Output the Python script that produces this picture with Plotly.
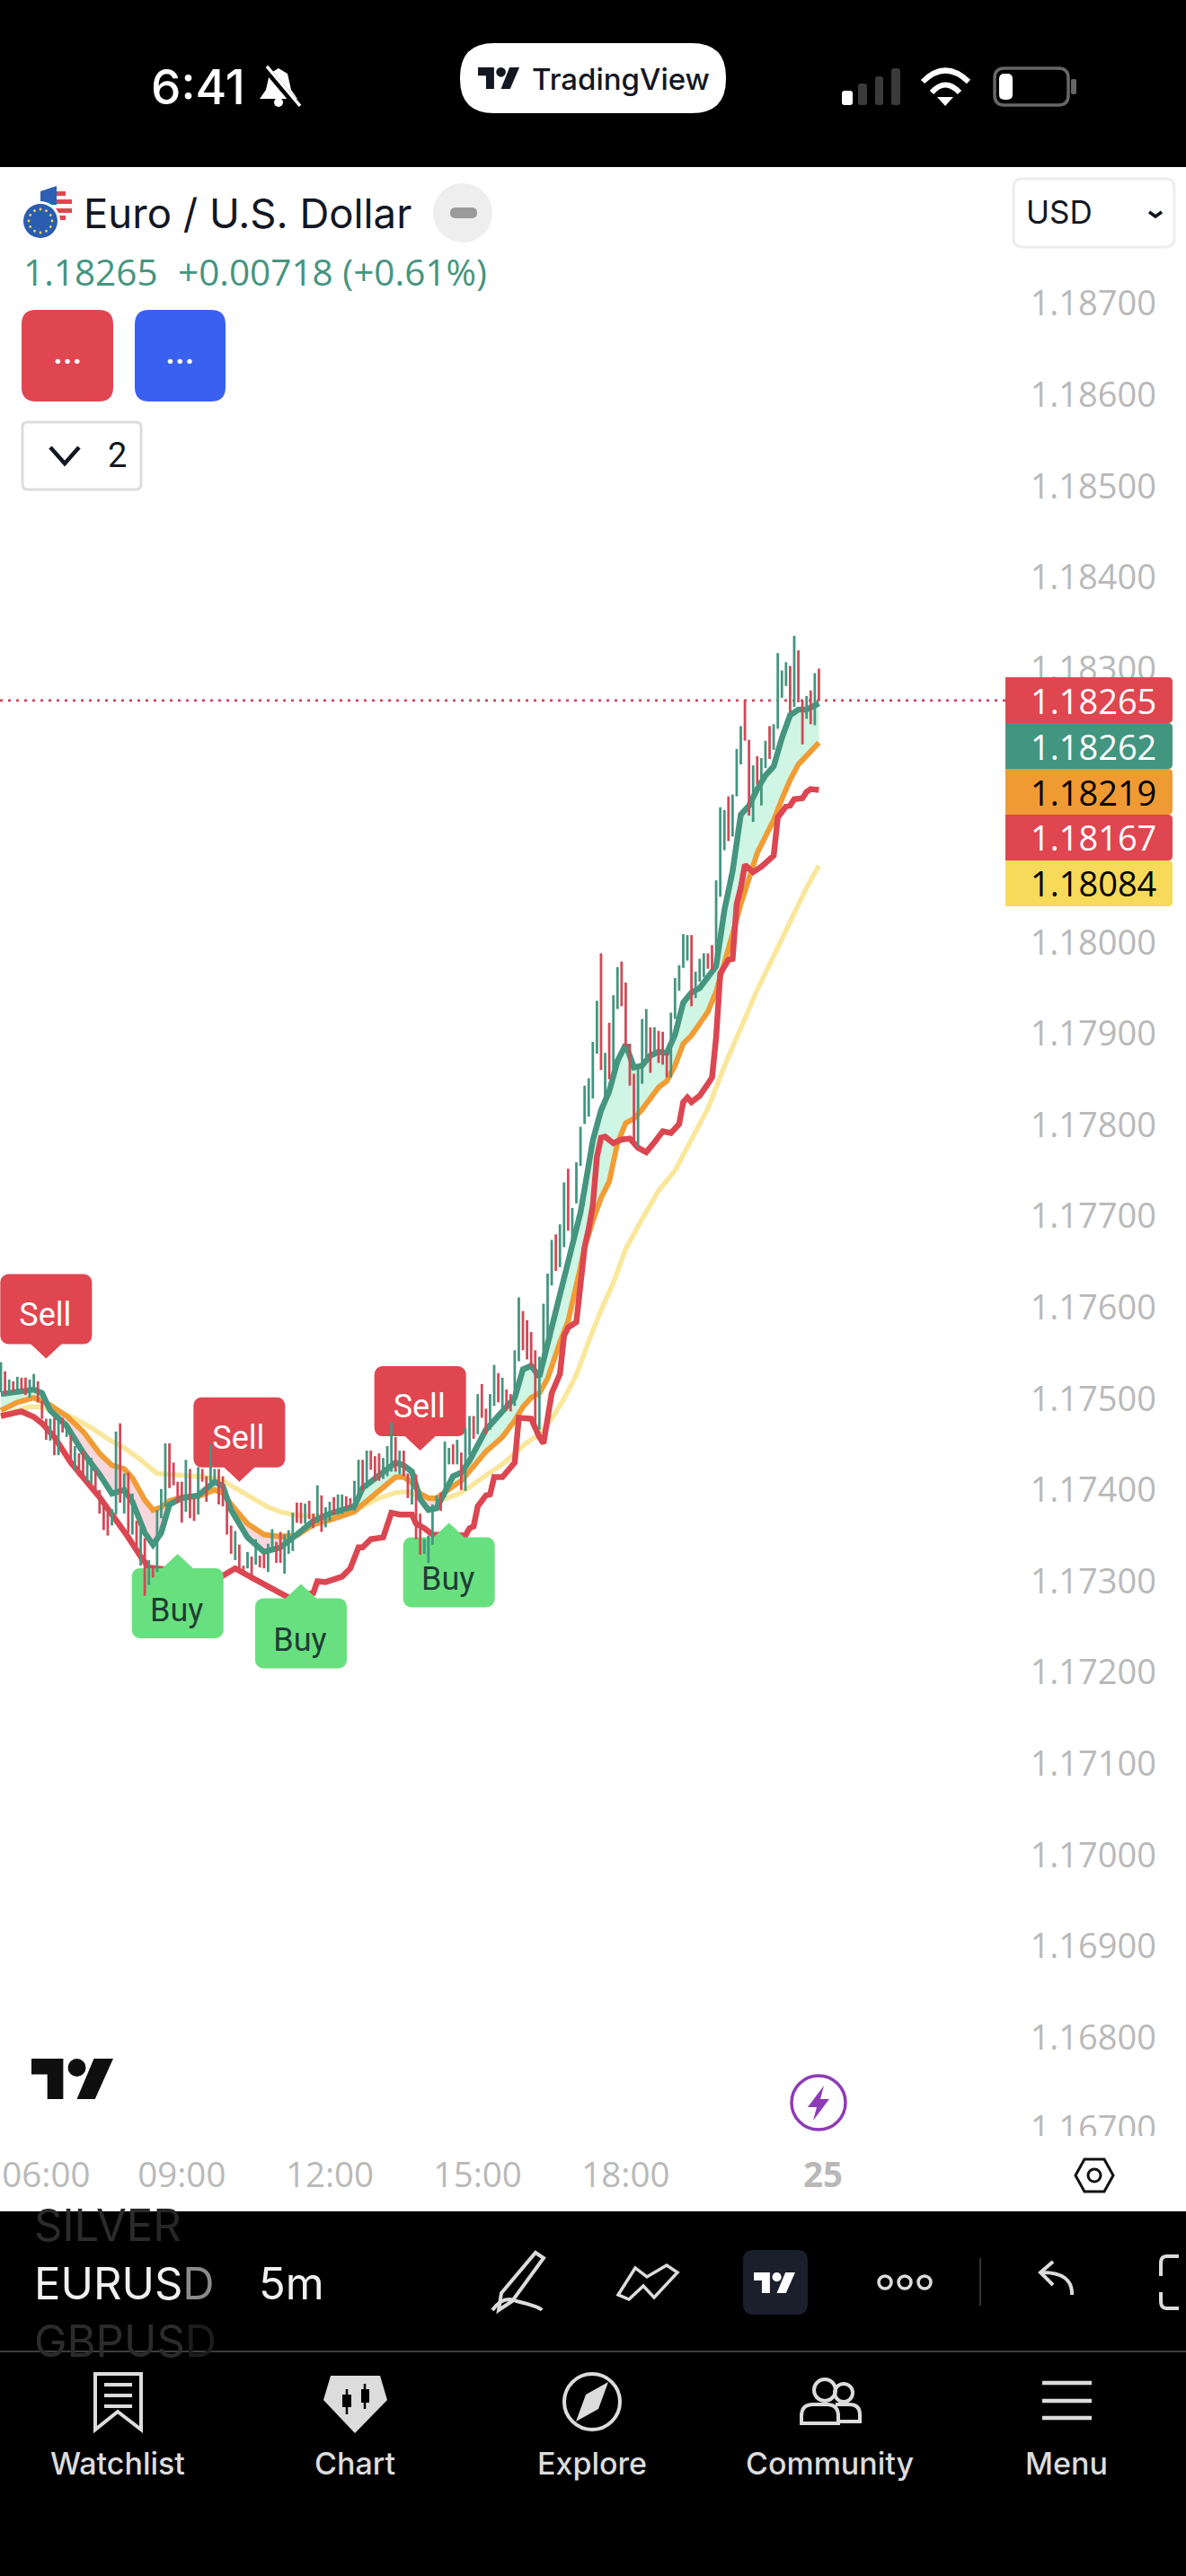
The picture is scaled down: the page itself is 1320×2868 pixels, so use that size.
import math

import plotly.graph_objects as go

W, H = 1320, 2868
PX_PER_BAR = 4.575
PX_PER_PRICE = 101600.0

# candles, left to right, one 5m bar each
BAR_HIGH = [
    1.17540, 1.17530, 1.17521, 1.17519, 1.17524, 1.17523, 1.17523, 1.17521, 1.17527, 1.17519,
    1.17498, 1.17478, 1.17478, 1.17479, 1.17479, 1.17479, 1.17474, 1.17461, 1.17448, 1.17440,
    1.17443, 1.17433, 1.17435, 1.17422, 1.17400, 1.17387, 1.17382, 1.17379, 1.17464, 1.17473,
    1.17418, 1.17419, 1.17396, 1.17366, 1.17358, 1.17347, 1.17323, 1.17317, 1.17378, 1.17401,
    1.17451, 1.17451, 1.17430, 1.17409, 1.17409, 1.17433, 1.17423, 1.17391, 1.17425, 1.17423,
    1.17415, 1.17450, 1.17423, 1.17423, 1.17415, 1.17387, 1.17361, 1.17355, 1.17340, 1.17317,
    1.17332, 1.17327, 1.17346, 1.17328, 1.17330, 1.17341, 1.17357, 1.17343, 1.17354, 1.17351,
    1.17356, 1.17375, 1.17386, 1.17386, 1.17385, 1.17388, 1.17374, 1.17405, 1.17394, 1.17381,
    1.17387, 1.17392, 1.17395, 1.17395, 1.17393, 1.17391, 1.17410, 1.17433, 1.17433, 1.17443,
    1.17443, 1.17437, 1.17440, 1.17435, 1.17448, 1.17474, 1.17458, 1.17443, 1.17443, 1.17418,
    1.17415, 1.17417, 1.17374, 1.17346, 1.17350, 1.17384, 1.17394, 1.17397, 1.17453, 1.17446,
    1.17450, 1.17455, 1.17441, 1.17468, 1.17481, 1.17481, 1.17505, 1.17516, 1.17489, 1.17505,
    1.17537, 1.17528, 1.17523, 1.17510, 1.17505, 1.17553, 1.17611, 1.17596, 1.17586, 1.17573,
    1.17553, 1.17546, 1.17604, 1.17637, 1.17674, 1.17680, 1.17691, 1.17737, 1.17752, 1.17709,
    1.17759, 1.17798, 1.17843, 1.17851, 1.17891, 1.17936, 1.17988, 1.17879, 1.17912, 1.17942,
    1.17973, 1.17979, 1.17956, 1.17889, 1.17856, 1.17863, 1.17916, 1.17927, 1.17907, 1.17907,
    1.17903, 1.17902, 1.17879, 1.17923, 1.17961, 1.17975, 1.18009, 1.18008, 1.18008, 1.17968,
    1.17982, 1.17988, 1.17988, 1.17997, 1.18068, 1.18148, 1.18145, 1.18160, 1.18162, 1.18212,
    1.18237, 1.18266, 1.18222, 1.18194, 1.18204, 1.18202, 1.18221, 1.18237, 1.18239, 1.18317,
    1.18298, 1.18307, 1.18303, 1.18336, 1.18320, 1.18265, 1.18270, 1.18276, 1.18295, 1.18300,
]
BAR_LOW = [
    1.17507, 1.17505, 1.17507, 1.17507, 1.17509, 1.17510, 1.17504, 1.17501, 1.17509, 1.17496,
    1.17478, 1.17455, 1.17454, 1.17438, 1.17438, 1.17463, 1.17458, 1.17427, 1.17422, 1.17415,
    1.17415, 1.17409, 1.17407, 1.17399, 1.17374, 1.17356, 1.17350, 1.17361, 1.17373, 1.17386,
    1.17374, 1.17353, 1.17351, 1.17333, 1.17317, 1.17284, 1.17296, 1.17304, 1.17310, 1.17369,
    1.17382, 1.17402, 1.17405, 1.17386, 1.17364, 1.17376, 1.17369, 1.17366, 1.17373, 1.17409,
    1.17387, 1.17404, 1.17409, 1.17384, 1.17382, 1.17351, 1.17330, 1.17323, 1.17314, 1.17310,
    1.17314, 1.17305, 1.17318, 1.17315, 1.17314, 1.17310, 1.17333, 1.17320, 1.17320, 1.17308,
    1.17330, 1.17333, 1.17364, 1.17363, 1.17363, 1.17368, 1.17358, 1.17364, 1.17354, 1.17359,
    1.17366, 1.17373, 1.17373, 1.17374, 1.17379, 1.17381, 1.17377, 1.17389, 1.17399, 1.17402,
    1.17422, 1.17410, 1.17410, 1.17412, 1.17415, 1.17420, 1.17420, 1.17417, 1.17415, 1.17391,
    1.17384, 1.17346, 1.17329, 1.17330, 1.17320, 1.17340, 1.17377, 1.17377, 1.17392, 1.17428,
    1.17428, 1.17428, 1.17400, 1.17399, 1.17438, 1.17456, 1.17461, 1.17479, 1.17461, 1.17466,
    1.17492, 1.17496, 1.17489, 1.17487, 1.17486, 1.17492, 1.17541, 1.17553, 1.17543, 1.17535,
    1.17468, 1.17466, 1.17540, 1.17553, 1.17624, 1.17640, 1.17644, 1.17666, 1.17684, 1.17675,
    1.17714, 1.17755, 1.17801, 1.17809, 1.17829, 1.17878, 1.17860, 1.17827, 1.17850, 1.17860,
    1.17927, 1.17930, 1.17886, 1.17843, 1.17783, 1.17776, 1.17845, 1.17868, 1.17857, 1.17875,
    1.17868, 1.17866, 1.17852, 1.17852, 1.17916, 1.17947, 1.17972, 1.17980, 1.17930, 1.17939,
    1.17957, 1.17962, 1.17971, 1.17970, 1.17980, 1.18050, 1.18101, 1.18111, 1.18116, 1.18160,
    1.18195, 1.18221, 1.18139, 1.18132, 1.18173, 1.18150, 1.18191, 1.18201, 1.18211, 1.18234,
    1.18268, 1.18281, 1.18252, 1.18258, 1.18263, 1.18217, 1.18245, 1.18239, 1.18238, 1.18265,
]
# G closes up, R closes down
BAR_DIR = (
    "GRGRGRRGGR" "RRGRGRGRGR" "RGGRRRRGGR" "GRGRGRGRGG" "GRRRRGRRGR"
    "RGGRRRRGRR" "GRGRRGGRRG" "GGRRGRRGRG" "GRGGRRGGRG" "RRRGGGRGRR"
    "GRRGGGGRGG" "RGRGGRGRRG" "GRGRRGGRRR" "RGGGGRGGRG" "GGGGGGRGRG"
    "GRRRRGGGRG" "RRRGGGGGRG" "GGRRGGGRGG" "GRRGRGGRGG" "GGRGRRGRGR"
)

# fast and slow moving averages share one grid of bar numbers
MA_BARS = [
    0, 4, 8, 10, 12, 16, 20, 24, 27, 30, 32, 35, 37, 39, 41, 44, 48, 52, 54, 56, 60, 64, 68, 72, 76,
    80, 84, 86, 88, 92, 96, 98, 100, 102, 104, 106, 108, 110, 112, 114, 118, 122, 125, 127, 129,
    131, 133, 136, 138, 141, 142, 144, 146, 148, 150, 152, 154, 156, 158, 160, 162, 164, 166, 168,
    170, 172, 174, 176, 178, 180, 182, 184, 186, 188, 190, 192, 194, 196, 199,
]
FAST_MA = [
    1.17505, 1.17508, 1.17510, 1.17506, 1.17487, 1.17470, 1.17441, 1.17417, 1.17396, 1.17400,
    1.17387, 1.17353, 1.17340, 1.17353, 1.17384, 1.17391, 1.17394, 1.17409, 1.17404, 1.17378,
    1.17348, 1.17332, 1.17337, 1.17351, 1.17366, 1.17374, 1.17379, 1.17382, 1.17402, 1.17417,
    1.17430, 1.17427, 1.17420, 1.17390, 1.17378, 1.17380, 1.17399, 1.17415, 1.17419, 1.17432,
    1.17466, 1.17486, 1.17501, 1.17532, 1.17536, 1.17524, 1.17560, 1.17615, 1.17645, 1.17704,
    1.17730, 1.17783, 1.17816, 1.17837, 1.17870, 1.17888, 1.17863, 1.17865, 1.17876, 1.17880,
    1.17879, 1.17899, 1.17934, 1.17945, 1.17950, 1.17961, 1.17974, 1.18035, 1.18078, 1.18140,
    1.18150, 1.18168, 1.18183, 1.18193, 1.18224, 1.18249, 1.18255, 1.18255, 1.18262,
]
SLOW_MA = [
    1.17487, 1.17496, 1.17501, 1.17497, 1.17493, 1.17481, 1.17464, 1.17440, 1.17427, 1.17423,
    1.17413, 1.17389, 1.17378, 1.17381, 1.17388, 1.17392, 1.17393, 1.17400, 1.17397, 1.17384,
    1.17363, 1.17351, 1.17349, 1.17350, 1.17362, 1.17367, 1.17373, 1.17376, 1.17384, 1.17399,
    1.17414, 1.17414, 1.17408, 1.17396, 1.17391, 1.17391, 1.17398, 1.17404, 1.17410, 1.17421,
    1.17442, 1.17458, 1.17476, 1.17491, 1.17501, 1.17506, 1.17522, 1.17562, 1.17585, 1.17644,
    1.17666, 1.17695, 1.17720, 1.17738, 1.17780, 1.17802, 1.17807, 1.17817, 1.17830, 1.17841,
    1.17848, 1.17865, 1.17889, 1.17898, 1.17911, 1.17924, 1.17946, 1.17976, 1.18009, 1.18042,
    1.18068, 1.18098, 1.18116, 1.18134, 1.18157, 1.18178, 1.18195, 1.18205, 1.18219,
]

YELLOW_BARS = [
    0, 3, 7, 10, 14, 18, 22, 26, 30, 34, 38, 42, 46, 50, 54, 58, 62, 65, 68, 72, 78, 84, 88, 92, 96,
    99, 103, 107, 111, 114, 118, 122, 125, 128, 131, 134, 137, 140, 143, 146, 149, 152, 156, 160,
    164, 168, 172, 176, 180, 184, 188, 192, 196, 199,
]
YELLOW_MA = [
    1.17480, 1.17486, 1.17491, 1.17491, 1.17486, 1.17478, 1.17468, 1.17456, 1.17446, 1.17433,
    1.17418, 1.17417, 1.17415, 1.17414, 1.17410, 1.17399, 1.17389, 1.17381, 1.17376, 1.17372,
    1.17371, 1.17374, 1.17382, 1.17391, 1.17397, 1.17398, 1.17391, 1.17389, 1.17395, 1.17403,
    1.17416, 1.17428, 1.17440, 1.17452, 1.17461, 1.17478, 1.17500, 1.17526, 1.17563, 1.17597,
    1.17627, 1.17664, 1.17697, 1.17728, 1.17750, 1.17785, 1.17818, 1.17864, 1.17906, 1.17948,
    1.17985, 1.18024, 1.18060, 1.18084,
]

RED_BARS = [
    0, 2, 5, 8, 10, 13, 15, 17, 19, 22, 24, 27, 29, 31, 34, 36, 54, 57, 61, 66, 70, 76, 77, 79, 83,
    85, 87, 88, 90, 93, 95, 97, 100, 101, 103, 105, 113, 114, 115, 116, 118, 119, 120, 122, 124,
    125, 126, 129, 131, 132, 134, 136, 137, 138, 140, 141, 142, 143, 144, 145, 146, 147, 149, 151,
    153, 155, 157, 159, 161, 163, 165, 166, 167, 168, 170, 172, 173, 174, 175, 177, 178, 179, 180,
    181, 183, 185, 188, 189, 191, 192, 193, 195, 196, 197, 199,
]
RED_LINE = [
    1.17481, 1.17483, 1.17486, 1.17480, 1.17473, 1.17458, 1.17443, 1.17430, 1.17419, 1.17404,
    1.17392, 1.17373, 1.17361, 1.17348, 1.17327, 1.17315, 1.17306, 1.17314, 1.17304, 1.17291,
    1.17282, 1.17287, 1.17300, 1.17299, 1.17305, 1.17314, 1.17337, 1.17337, 1.17346, 1.17348,
    1.17375, 1.17373, 1.17373, 1.17363, 1.17358, 1.17351, 1.17350, 1.17358, 1.17360, 1.17382,
    1.17394, 1.17395, 1.17414, 1.17414, 1.17425, 1.17430, 1.17479, 1.17478, 1.17458, 1.17451,
    1.17506, 1.17527, 1.17569, 1.17578, 1.17584, 1.17622, 1.17666, 1.17686, 1.17712, 1.17765,
    1.17786, 1.17787, 1.17780, 1.17784, 1.17785, 1.17775, 1.17770, 1.17781, 1.17793, 1.17791,
    1.17801, 1.17825, 1.17830, 1.17825, 1.17832, 1.17845, 1.17852, 1.17896, 1.17966, 1.17981,
    1.17982, 1.18042, 1.18060, 1.18085, 1.18077, 1.18083, 1.18095, 1.18137, 1.18149, 1.18150,
    1.18157, 1.18158, 1.18165, 1.18168, 1.18167,
]

SIGNAL_TEXT = ["Sell", "Sell", "Sell", "Buy", "Buy", "Buy"]
SIGNAL_BAR = [11, 58, 102, 43, 73, 109]
SIGNAL_PRICE = [1.17544, 1.17409, 1.17443, 1.17330, 1.17297, 1.17364]

# 1.18100 and 1.18200 sit behind the value tags, the app does not show them
PRICE_TICKS = [1.167 + 0.001 * n for n in range(21) if n not in (14, 15)]
TIME_TICK_BARS = [11, 44, 80, 116, 152, 200]
TIME_TICK_TEXT = ["06:00", "09:00", "12:00", "15:00", "18:00", "<b>25</b>"]

LAST_PRICE = 1.18265
TAG_VALUES = [1.18265, 1.18262, 1.18219, 1.18167, 1.18084]
TAG_FILLS = ["#df4650", "#42967f", "#f09a33", "#df4650", "#f7da59"]
TAG_TEXT = ["#ffffff", "#ffffff", "#000000", "#ffffff", "#000000"]

GREEN = "#45957f"
RED = "#dc4651"
ORANGE = "#f19c34"
YELLOW = "#f9e79b"
TICK_GREY = "#b9b9b9"
NAV_GREY = "#dcdcdc"
FONT = "Inter"
NUM_FONT = "Open Sans"
LABEL_FONT = "Roboto"

# the plot runs a little under the cut of the price scale so 1.16700 is kept
PLOT_RIGHT, PLOT_TOP, PLOT_BOTTOM, SCALE_CUT = 1290, 186, 2395, 2378


def px_x(x):
    return x / W


def px_y(y):
    return 1 - y / H


def pt(x, y):
    return f"{px_x(x):.5f} {px_y(y):.5f}"


fig = go.Figure()


def shape_path(path, fill=None, line=None, lw=0):
    fig.add_shape(
        type="path",
        path=path,
        xref="paper",
        yref="paper",
        layer="above",
        fillcolor=fill if fill else "rgba(0,0,0,0)",
        line=dict(color=line if line else "rgba(0,0,0,0)", width=lw),
    )


def poly(points, fill=None, line=None, lw=0, closed=True):
    path = "M" + " L".join(pt(x, y) for x, y in points) + (" Z" if closed else "")
    shape_path(path, fill, line, lw)


def rrect(x0, y0, x1, y1, r, fill=None, line=None, lw=0, left=True):
    rl = r if left else 0
    path = (
        f"M{pt(x0 + rl, y0)} L{pt(x1 - r, y0)} Q{pt(x1, y0)} {pt(x1, y0 + r)} "
        f"L{pt(x1, y1 - r)} Q{pt(x1, y1)} {pt(x1 - r, y1)} L{pt(x0 + rl, y1)} "
        f"Q{pt(x0, y1)} {pt(x0, y1 - rl)} L{pt(x0, y0 + rl)} Q{pt(x0, y0)} {pt(x0 + rl, y0)} Z"
    )
    shape_path(path, fill, line, lw)


def circle(cx, cy, r, fill=None, line=None, lw=0):
    fig.add_shape(
        type="circle",
        xref="paper",
        yref="paper",
        layer="above",
        x0=px_x(cx - r),
        x1=px_x(cx + r),
        y0=px_y(cy + r),
        y1=px_y(cy - r),
        fillcolor=fill if fill else "rgba(0,0,0,0)",
        line=dict(color=line if line else "rgba(0,0,0,0)", width=lw),
    )


def label(x, y, text, size, color, anchor="center", family=FONT, weight=None):
    fig.add_annotation(
        xref="paper",
        yref="paper",
        x=px_x(x),
        y=px_y(y),
        text=text,
        showarrow=False,
        xanchor=anchor,
        yanchor="middle",
        borderpad=0,
        borderwidth=0,
        font=dict(size=size, color=color, family=family, weight=weight),
    )


def logo(x, y, w, h, color):
    sx, sy = w / 36.0, h / 18.0
    poly(
        [(x, y), (x + 14 * sx, y), (x + 14 * sx, y + h), (x + 7 * sx, y + h),
         (x + 7 * sx, y + 7 * sy), (x, y + 7 * sy)],
        fill=color,
    )
    poly(
        [(x + 27.5 * sx, y), (x + 36 * sx, y), (x + 28 * sx, y + h), (x + 20 * sx, y + h)],
        fill=color,
    )
    circle(x + 20 * sx, y + 4 * sy, 4 * sy, fill=color)


def band_runs(bars, fast, slow):
    # split the ribbon where the two averages swap, for the two fill colours
    runs = []
    cur = [(bars[0], fast[0], slow[0])]
    for k in range(1, len(bars)):
        d0 = fast[k - 1] - slow[k - 1]
        d1 = fast[k] - slow[k]
        if d0 * d1 < 0:
            t = d0 / (d0 - d1)
            cx = bars[k - 1] + t * (bars[k] - bars[k - 1])
            cy = fast[k - 1] + t * (fast[k] - fast[k - 1])
            cur.append((cx, cy, cy))
            runs.append((d0 > 0, cur))
            cur = [(cx, cy, cy)]
        cur.append((bars[k], fast[k], slow[k]))
    runs.append((fast[-1] > slow[-1], cur))
    return runs


def bubble(bar, price, is_sell):
    # speech bubble polygon around the signal, sized in screen pixels
    half, body, neck, tip_w, r = 51, 78, 16, 17, 9
    sign = 1 if is_sell else -1
    off = [(0, 0), (tip_w, neck)]
    corners = [
        (half - r, neck + r, -90),
        (half - r, neck + body - r, 0),
        (-half + r, neck + body - r, 90),
        (-half + r, neck + r, 180),
    ]
    for cx, cy, start in corners:
        for step in range(5):
            a = math.radians(start + step * 22.5)
            off.append((cx + r * math.cos(a), cy + r * math.sin(a)))
    off += [(-tip_w, neck), (0, 0)]
    xs = [bar + dx / PX_PER_BAR for dx, dy in off]
    ys = [price + sign * dy / PX_PER_PRICE for dx, dy in off]
    return xs, ys


def segments(keep):
    xs, ys = [], []
    for i, flag in enumerate(BAR_DIR):
        if flag == keep:
            xs += [i, i, None]
            ys += [BAR_LOW[i], BAR_HIGH[i], None]
    return xs, ys


for above, run in band_runs(MA_BARS, FAST_MA, SLOW_MA):
    xs = [r[0] for r in run] + [r[0] for r in run][::-1]
    ys = [r[1] for r in run] + [r[2] for r in run][::-1]
    fig.add_trace(
        go.Scatter(
            x=xs,
            y=ys,
            mode="none",
            fill="toself",
            fillcolor="#cff5e4" if above else "#f6d7dd",
            hoverinfo="skip",
        )
    )

for bars, vals, color, width in [
    (YELLOW_BARS, YELLOW_MA, YELLOW, 5.5),
    (MA_BARS, SLOW_MA, ORANGE, 6),
    (MA_BARS, FAST_MA, GREEN, 6.5),
    (RED_BARS, RED_LINE, RED, 6.5),
]:
    fig.add_trace(
        go.Scatter(
            x=bars, y=vals, mode="lines", line=dict(color=color, width=width), hoverinfo="skip"
        )
    )

for text, bar, price in zip(SIGNAL_TEXT, SIGNAL_BAR, SIGNAL_PRICE):
    is_sell = text == "Sell"
    xs, ys = bubble(bar, price, is_sell)
    fig.add_trace(
        go.Scatter(
            x=xs,
            y=ys,
            mode="none",
            fill="toself",
            fillcolor="#e04650" if is_sell else "#69e07f",
            hoverinfo="skip",
        )
    )
    fig.add_trace(
        go.Scatter(
            x=[bar - 1 / PX_PER_BAR],
            y=[price + (46 if is_sell else -66) / PX_PER_PRICE],
            mode="text",
            text=[text],
            textposition="middle center",
            textfont=dict(size=36, color="#ffffff" if is_sell else "#1f3d36", family=LABEL_FONT),
            hoverinfo="skip",
        )
    )

for keep, color in [("G", GREEN), ("R", "#d14a56")]:
    xs, ys = segments(keep)
    fig.add_trace(
        go.Scatter(x=xs, y=ys, mode="lines", line=dict(color=color, width=2.8), hoverinfo="skip")
    )

fig.add_hline(y=LAST_PRICE, line=dict(color="#d4455a", width=2.8, dash="3px,6px"), layer="below")

fig.update_layout(
    width=W,
    height=H,
    margin=dict(l=0, r=0, t=0, b=0),
    paper_bgcolor="#ffffff",
    plot_bgcolor="#ffffff",
    showlegend=False,
    xaxis=dict(
        domain=[0, PLOT_RIGHT / W],
        range=[-1 / PX_PER_BAR, (PLOT_RIGHT - 1) / PX_PER_BAR],
        tickmode="array",
        tickvals=TIME_TICK_BARS,
        ticktext=TIME_TICK_TEXT,
        tickfont=dict(size=38.5, color=TICK_GREY, family=NUM_FONT),
        ticks="",
        showgrid=False,
        zeroline=False,
        showline=False,
    ),
    yaxis=dict(
        domain=[px_y(PLOT_BOTTOM), px_y(PLOT_TOP)],
        range=[
            1.187 - (PLOT_BOTTOM - 338) / PX_PER_PRICE,
            1.187 + (338 - PLOT_TOP) / PX_PER_PRICE,
        ],
        side="right",
        ticklabelposition="inside",
        tickmode="array",
        tickvals=PRICE_TICKS,
        tickformat=".5f",
        tickfont=dict(size=38, color=TICK_GREY, family=NUM_FONT),
        showgrid=False,
        zeroline=False,
        showline=False,
    ),
)

# cut the price scale off above the time scale
poly([(1100, SCALE_CUT), (W, SCALE_CUT), (W, 2400), (1100, 2400)], fill="#ffffff")

# last value tags on the price scale
for k, (value, fill, color) in enumerate(zip(TAG_VALUES, TAG_FILLS, TAG_TEXT)):
    y0 = 754 + 51 * k
    rrect(1119, y0, 1305, y0 + 51, 5, fill=fill, left=False)
    label(1287, y0 + 25.5, f"{value:.5f}", 38, color, anchor="right", family=NUM_FONT)

# status bar
poly([(0, 0), (W, 0), (W, 186), (0, 186)], fill="#000000")
label(168, 97, "6:41", 53, "#ffffff", anchor="left", weight=500)
poly(
    [(310, 76), (320, 82), (324, 100), (331, 110), (289, 110), (296, 100), (300, 82)],
    fill="#ffffff",
)
circle(310, 114, 5, fill="#ffffff")
poly([(294, 74), (333, 120)], line="#000000", lw=8, closed=False)
poly([(297, 74), (334, 118)], line="#ffffff", lw=3.5, closed=False)
rrect(512, 48, 808, 126, 38, fill="#ffffff")
logo(532, 75, 46, 24, "#131722")
label(592, 88, "TradingView", 33, "#131722", anchor="left", weight=500)
for x0, x1, top, color in [
    (937, 949, 101, "#ffffff"),
    (955, 965, 93, "#3a3a3a"),
    (974, 983, 85, "#3a3a3a"),
    (992, 1002, 76, "#3a3a3a"),
]:
    rrect(x0, top, x1, 117, 3, fill=color)
shape_path(f"M{pt(1027, 91)} Q{pt(1052, 66)} {pt(1078, 91)}", line="#ffffff", lw=6)
shape_path(f"M{pt(1037, 103)} Q{pt(1052, 86)} {pt(1068, 103)}", line="#ffffff", lw=6)
poly([(1043, 108), (1061, 108), (1052, 118)], fill="#ffffff")
rrect(1107, 76, 1189, 117, 11, line="#666666", lw=3.5)
rrect(1112, 82, 1127, 111, 6, fill="#ffffff")
rrect(1192, 88, 1198, 105, 2, fill="#666666")

# symbol header
circle(63, 225, 18, fill="#ffffff")
for sy, half in [(213, 10), (222, 17), (232, 17), (240, 10)]:
    poly([(63 - half, sy), (63 + half, sy), (63 + half, sy + 5), (63 - half, sy + 5)], fill="#df4650")
poly([(45, 213), (63, 207), (63, 228), (45, 228)], fill="#2d5fb5")
circle(45, 246, 22, fill="#ffffff")
circle(45, 246, 19, fill="#2a5db0")
for n in range(12):
    a = n * math.pi / 6
    circle(45 + 13 * math.cos(a), 246 + 13 * math.sin(a), 1.4, fill="#f7d54a")
label(93, 237, "Euro / U.S. Dollar", 45.5, "#131722", anchor="left")
circle(515, 237, 33, fill="#eeeeee")
rrect(501, 231, 531, 243, 6, fill="#9a9a9a")
label(26, 303, "1.18265", 40.5, GREEN, anchor="left", family=NUM_FONT)
label(198, 303, "+0.00718 (+0.61%)", 40.5, GREEN, anchor="left", family=NUM_FONT)
rrect(24, 345, 126, 447, 16, fill="#df4650")
rrect(150, 345, 251, 447, 16, fill="#3a60f0")
label(75, 394, "...", 32, "#ffffff", weight=700)
label(200, 394, "...", 32, "#ffffff", weight=700)
rrect(25, 470, 157, 545, 6, fill="#ffffff", line="#dddddd", lw=3)
poly([(56, 498), (72, 516), (88, 498)], line="#131722", lw=4.5, closed=False)
label(130, 507, "2", 38, "#131722", family=LABEL_FONT)
rrect(1128, 199, 1307, 275, 10, fill="#ffffff", line="#eeeeee", lw=3)
label(1142, 236, "USD", 35, "#131722", anchor="left")
poly([(1279, 236), (1286, 241), (1293, 236)], line="#131722", lw=3.5, closed=False)

# watermark, replay bolt and scale settings
logo(35, 2292, 91, 45, "#0f0f0f")
circle(911, 2341, 30, fill="#ffffff", line="#8e3cb5", lw=3.5)
poly([(917, 2322), (899, 2346), (909, 2346), (905, 2361), (923, 2337), (913, 2337)], fill="#8e3cb5")
poly(
    [(1197, 2422), (1207, 2404), (1229, 2404), (1239, 2422), (1229, 2440), (1207, 2440)],
    fill="#ffffff",
    line="#111111",
    lw=3,
)
circle(1218, 2422, 7, line="#111111", lw=3)

# bottom toolbar and navigation
poly([(0, 2462), (W, 2462), (W, H), (0, H)], fill="#000000")
label(38, 2477, "SILVE<span style='color:#262626'>R</span>", 49, "#2b2b2b", anchor="left")
label(38, 2606, "GBPUS<span style='color:#1c1c1c'>D</span>", 49, "#2b2b2b", anchor="left")
label(38, 2542, "EURUS<span style='color:#8a8a8a'>D</span>", 49, "#f0f0f0", anchor="left")
label(288, 2542, "5m", 49, "#f0f0f0", anchor="left")
poly([(0, 2618), (W, 2618)], line="#3d3d3d", lw=2, closed=False)

poly(
    [(596, 2508), (605, 2514), (570, 2562), (555, 2572), (558, 2553)],
    line=NAV_GREY,
    lw=4,
)
shape_path(f"M{pt(548, 2572)} Q{pt(560, 2555)} {pt(575, 2562)} Q{pt(600, 2568)} {pt(603, 2572)}", line=NAV_GREY, lw=4)
poly(
    [(688, 2555), (707, 2525), (720, 2535), (742, 2522), (754, 2530), (728, 2558), (716, 2545), (700, 2560)],
    line=NAV_GREY,
    lw=3.5,
)
rrect(827, 2505, 899, 2577, 12, fill="#1b1e2b")
logo(839, 2530, 46, 23, "#ffffff")
for cx in [985, 1007, 1029]:
    circle(cx, 2541, 7, line=NAV_GREY, lw=3.5)
poly([(1091, 2514), (1091, 2567)], line="#333333", lw=2, closed=False)
shape_path(f"M{pt(1193, 2555)} Q{pt(1194, 2530)} {pt(1160, 2530)}", line=NAV_GREY, lw=4)
poly([(1172, 2518), (1158, 2530), (1172, 2544)], line=NAV_GREY, lw=4, closed=False)
shape_path(f"M{pt(1312, 2512)} L{pt(1298, 2512)} Q{pt(1292, 2512)} {pt(1292, 2520)} L{pt(1292, 2534)}", line=NAV_GREY, lw=4)
shape_path(f"M{pt(1292, 2552)} L{pt(1292, 2562)} Q{pt(1292, 2570)} {pt(1298, 2570)} L{pt(1312, 2570)}", line=NAV_GREY, lw=4)

poly([(106, 2643), (157, 2643), (157, 2705), (131, 2685), (106, 2705)], line=NAV_GREY, lw=4)
for ly in [2655, 2667, 2679]:
    poly([(116, ly), (147, ly)], line=NAV_GREY, lw=4, closed=False)
poly([(368, 2645), (423, 2645), (431, 2672), (395, 2709), (360, 2672)], fill=NAV_GREY)
poly([(381, 2666), (391, 2666), (391, 2680), (381, 2680)], fill="#000000")
poly([(386, 2660), (386, 2688)], line="#000000", lw=2.5, closed=False)
poly([(402, 2660), (411, 2660), (411, 2675), (402, 2675)], fill="#000000")
poly([(406, 2654), (406, 2682)], line="#000000", lw=2.5, closed=False)
circle(659, 2674, 31, line=NAV_GREY, lw=4)
poly([(677, 2652), (666, 2682), (641, 2696), (652, 2666)], fill=NAV_GREY)
circle(918, 2661, 12, line=NAV_GREY, lw=4)
circle(939, 2664, 10, line=NAV_GREY, lw=4)
shape_path(
    f"M{pt(892, 2698)} L{pt(892, 2690)} Q{pt(892, 2677)} {pt(905, 2677)} L{pt(920, 2677)} "
    f"Q{pt(933, 2677)} {pt(933, 2690)} L{pt(933, 2698)} Z",
    line=NAV_GREY,
    lw=4,
)
shape_path(
    f"M{pt(933, 2696)} L{pt(957, 2696)} L{pt(957, 2688)} Q{pt(957, 2677)} {pt(945, 2677)} L{pt(930, 2677)}",
    line=NAV_GREY,
    lw=4,
)
for ly in [2653, 2673, 2692]:
    poly([(1160, ly), (1215, ly)], line=NAV_GREY, lw=4.5, closed=False)

for cx, text in zip([131, 395, 659, 923, 1187], ["Watchlist", "Chart", "Explore", "Community", "Menu"]):
    label(cx, 2742, text, 34, NAV_GREY, weight=500)

fig.write_html(
    "out.html",
    config={"displayModeBar": False},
    post_script="document.body.style.margin='0'",
)
